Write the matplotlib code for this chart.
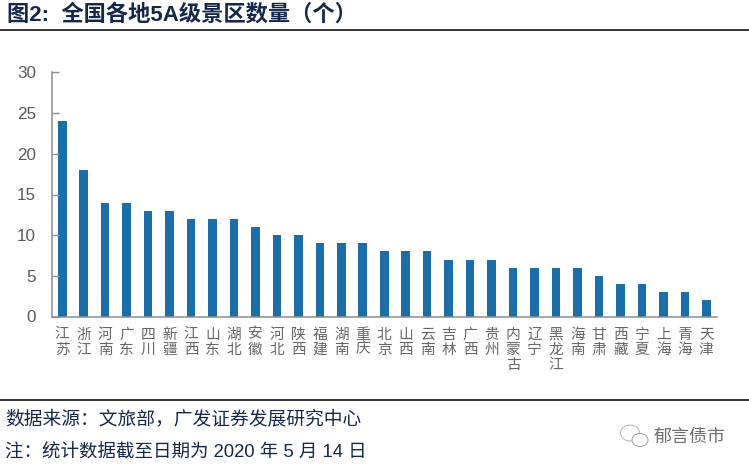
import matplotlib
matplotlib.use("Agg")
import matplotlib.pyplot as plt
from matplotlib.lines import Line2D
from matplotlib.patches import Ellipse

plt.rcParams["font.family"] = ["Liberation Sans", "Noto Sans CJK SC", "DejaVu Sans"]

provinces = ["江苏", "浙江", "河南", "广东", "四川", "新疆", "江西", "山东", "湖北", "安徽", "河北",
             "陕西", "福建", "湖南", "重庆", "北京", "山西", "云南", "吉林", "广西", "贵州", "内蒙古",
             "辽宁", "黑龙江", "海南", "甘肃", "西藏", "宁夏", "上海", "青海", "天津"]
counts = [24, 18, 14, 14, 13, 13, 12, 12, 12, 11, 10, 10, 9, 9, 9, 8, 8, 8, 7, 7, 7, 6, 6, 6, 6, 5, 4, 4, 3, 3, 2]
y_ticks = [0, 5, 10, 15, 20, 25, 30]

title = "图2:  全国各地5A级景区数量（个）"
source = "数据来源：文旅部，广发证券发展研究中心"
note = "注：统计数据截至日期为 2020 年 5 月 14 日"
watermark = "郁言债市"

W, H = 749, 469
NAVY = "#14284b"
GREY = "#8c8c8c"

fig = plt.figure(figsize=(W / 100, H / 100), dpi=100)
ax = fig.add_axes([51.5 / W, 1 - 316.5 / H, (717 - 51.5) / W, 244 / H])

xs = list(range(len(provinces)))
ax.bar(xs, counts, width=0.4, color="#1c6ea8")
ax.set_xlim(-0.5, len(provinces) - 0.5)
ax.set_ylim(0, 30)
ax.set_yticks(y_ticks)
ax.set_xticks(xs)
ax.set_xticklabels(["\n".join(p) for p in provinces], fontsize=10.6, color="#666666", linespacing=1.1)
ax.tick_params(axis="x", length=0, pad=8)
ax.tick_params(axis="y", direction="in", length=5, width=1, color=GREY, labelsize=12.3,
               labelcolor="#595959", pad=11)
for side in ["top", "right"]:
    ax.spines[side].set_visible(False)
for side in ["left", "bottom"]:
    ax.spines[side].set_color(GREY)
    ax.spines[side].set_linewidth(1.1)

# header and footer rules
for y_px in [30, 400]:
    fig.add_artist(Line2D([0, 1], [1 - y_px / H] * 2, color="black", lw=1.1))

fig.text(7 / W, 1 - 15 / H, title, fontsize=16, fontweight="bold", color=NAVY, va="center")
fig.text(5 / W, 1 - 419 / H, source, fontsize=13.5, color=NAVY, va="center")
fig.text(5 / W, 1 - 453 / H, note, fontsize=13.3, color=NAVY, va="center")

# wechat style mark
icon = fig.add_axes([0, 0, 1, 1], facecolor="none")
icon.set_xlim(0, W)
icon.set_ylim(H, 0)
icon.axis("off")
icon.add_patch(Ellipse((630, 433), 19, 16, fill=False, ec="#a8a8a8", lw=0.6))
icon.add_patch(Ellipse((640, 440), 16, 13, fc="white", ec="#8a8a8a", lw=0.6))
fig.text(654 / W, 1 - 437 / H, watermark, fontsize=13, color="#6e6e6e", va="center")

fig.savefig("out.png", dpi=100)
